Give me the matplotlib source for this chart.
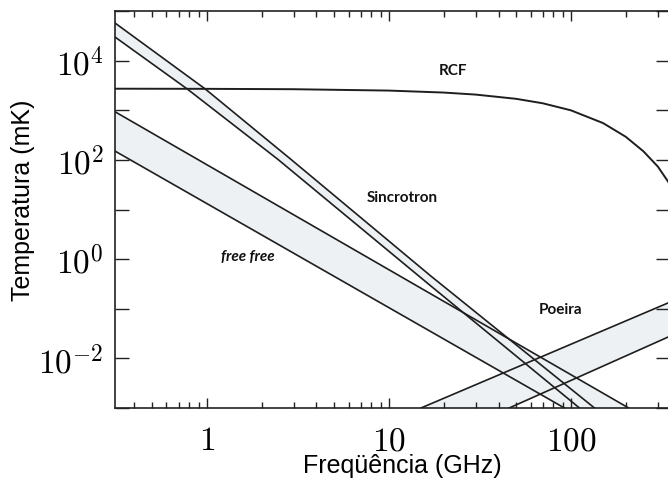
import matplotlib
matplotlib.use("Agg")
import matplotlib.pyplot as plt
from matplotlib.ticker import LogLocator, NullFormatter, FixedLocator

plt.rcParams['mathtext.fontset'] = 'cm'

# CMB (RCF) curve
rcf_freq = [0.313, 1, 3, 10, 20, 30, 50, 70, 100, 150, 200, 250, 300, 350]
rcf_temp = [2718, 2701, 2654, 2491, 2273, 2068, 1699, 1382, 996, 552, 292, 149, 73.4, 32.0]

# synchrotron band (upper and lower edges)
sync_hi_freq = [0.313, 0.981, 2.884, 17.03, 134.7]
sync_hi_temp = [57300, 2676, 103.8, 0.454, 0.001]
sync_lo_freq = [0.313, 0.781, 2.445, 17.03, 111.4]
sync_lo_temp = [29900, 2676, 103.8, 0.286, 0.001]

# free-free band
ff_hi_freq = [0.313, 207.5]
ff_hi_temp = [933, 0.001]
ff_lo_freq = [0.313, 92.1]
ff_lo_temp = [150.4, 0.001]

# dust band
dust_hi_freq = [15.0, 350]
dust_hi_temp = [0.001, 0.136]
dust_lo_freq = [45.8, 350]
dust_lo_temp = [0.001, 0.028]

line_col = '#1e1e1e'
band_col = '#edf1f3'

fig = plt.figure(figsize=(6.68, 4.89), dpi=100)
ax = fig.add_axes([115/668, 1 - 409/489, 555/668, 397/489])

bands = [
    (sync_hi_freq, sync_hi_temp, sync_lo_freq, sync_lo_temp),
    (ff_hi_freq, ff_hi_temp, ff_lo_freq, ff_lo_temp),
    (dust_hi_freq, dust_hi_temp, dust_lo_freq, dust_lo_temp),
]
for hf, ht, lf, lt in bands:
    ax.fill(list(hf) + list(lf)[::-1], list(ht) + list(lt)[::-1],
            color=band_col, lw=0, zorder=1)
    ax.plot(hf, ht, color=line_col, lw=1.2, zorder=3)
    ax.plot(lf, lt, color=line_col, lw=1.2, zorder=3)

ax.plot(rcf_freq, rcf_temp, color=line_col, lw=1.4, zorder=4)

ax.set_xscale('log')
ax.set_yscale('log')
ax.set_xlim(0.313, 350)
ax.set_ylim(1e-3, 1e5)

# x ticks
ax.xaxis.set_major_locator(FixedLocator([1, 10, 100]))
ax.xaxis.set_minor_locator(LogLocator(base=10, subs=range(2, 10)))
ax.xaxis.set_minor_formatter(NullFormatter())
ax.set_xticklabels([r'$1$', r'$10$', r'$100$'])

# y ticks: every decade, labels on even ones
ydec = [1e-3, 1e-2, 1e-1, 1, 10, 1e2, 1e3, 1e4, 1e5]
ylab = ['', r'$10^{-2}$', '', r'$10^{0}$', '', r'$10^{2}$', '', r'$10^{4}$', '']
ax.yaxis.set_major_locator(FixedLocator(ydec))
ax.set_yticklabels(ylab)
ax.yaxis.set_minor_locator(FixedLocator([]))

ax.tick_params(axis='both', which='both', direction='in', top=True, right=True,
               color='#222222', width=1.0)
ax.tick_params(axis='x', which='major', length=7, labelsize=24, pad=11)
ax.tick_params(axis='x', which='minor', length=4)
ax.tick_params(axis='y', which='major', length=10, labelsize=24, pad=8)

for sp in ax.spines.values():
    sp.set_color('#222222')
    sp.set_linewidth(1.2)

ax.set_xlabel('Freqüência (GHz)', fontsize=18, family='Liberation Sans')
ax.set_ylabel('Temperatura (mK)', fontsize=18, family='Liberation Sans')
ax.xaxis.set_label_coords(0.517, -0.114)
ax.yaxis.set_label_coords(-0.145, 0.526)

lab_kw = dict(family='Lato', fontweight='bold', fontsize=11, color='#111111',
              ha='center', va='center', zorder=5)
ax.text(22.5, 6460, 'RCF', **lab_kw)
ax.text(11.8, 17.8, 'Sincrotron', **lab_kw)
ax.text(1.672, 1.15, 'free free', style='italic', **lab_kw)
ax.text(87.5, 0.098, 'Poeira', **lab_kw)

fig.savefig('out.png', dpi=100)
